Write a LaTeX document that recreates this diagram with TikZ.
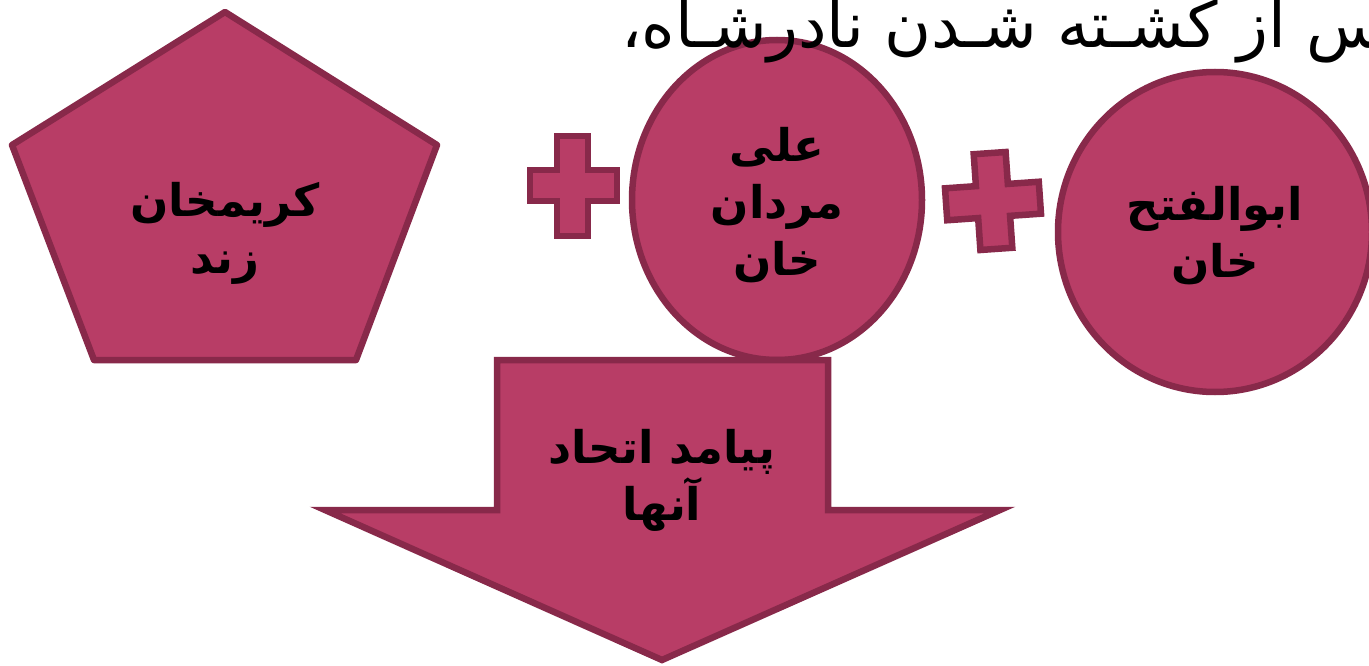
\documentclass[tikz,border=0pt]{standalone}
\usepackage{fontspec}
\usetikzlibrary{shapes.geometric}
\TeXXeTstate=1
\newfontfamily\arabicfont[Script=Arabic]{DejaVu Sans}
\definecolor{shapefill}{RGB}{184,61,102}
\definecolor{shapeline}{RGB}{136,41,74}
\tikzset{
  shp/.style={fill=shapefill,draw=shapeline,line width=6.5pt,line join=round},
  lbl/.style={font=\arabicfont\bfseries\fontsize{45}{57}\selectfont,align=center,text=black,inner sep=0pt},
  oval/.style={shp,ellipse,inner sep=0pt}
}
\begin{document}
\begin{tikzpicture}[x=1pt,y=-1pt]
\useasboundingbox (0,0) rectangle (1369,666);
% pentagon
\draw[shp] (225,12) -- (437,145) -- (356,360) -- (94,360) -- (12,145) -- cycle;
\node[lbl] (karim) at (225,233) {\beginR کریمخان\endR\\\beginR زند\endR};
% plus 1
\draw[shp,line join=miter] (557,136) -- (588,136) -- (588,170) -- (617,170) -- (617,201) -- (588,201) -- (588,236) -- (557,236) -- (557,201) -- (530,201) -- (530,170) -- (557,170) -- cycle;
% ellipse 1
\node[oval,minimum width=290pt,minimum height=320pt] (ali) at (777,200) {};
\node[lbl] (alitxt) at (777,205) {\beginR علی\endR\\\beginR مردان\endR\\\beginR خان\endR};
% plus 2
\begin{scope}[shift={(993,201)},rotate=4]
\draw[shp,line join=miter] (-16,-48) -- (16,-48) -- (16,-16) -- (47,-16) -- (47,16) -- (16,16) -- (16,48) -- (-16,48) -- (-16,16) -- (-47,16) -- (-47,-16) -- (-16,-16) -- cycle;
\end{scope}
% ellipse 2
\node[oval,minimum width=314pt,minimum height=320pt] (abol) at (1215,232) {};
\node[lbl] (aboltxt) at (1215,236) {\beginR ابوالفتح\endR\\\beginR خان\endR};
% arrow
\draw[shp,line join=miter] (497,360) -- (828,360) -- (828,510) -- (1000,510) -- (662,660) -- (325,510) -- (497,510) -- cycle;
\node[lbl] (result) at (662,480) {\beginR پیامد اتحاد\endR\\\beginR آنها\endR};
% top text
\node[font=\arabicfont\fontsize{64}{70}\selectfont,anchor=base west,inner sep=0pt] (title) at (621,48) {\beginR پس از کشـته شـدن نادرشـاه،\endR};
\end{tikzpicture}
\end{document}
